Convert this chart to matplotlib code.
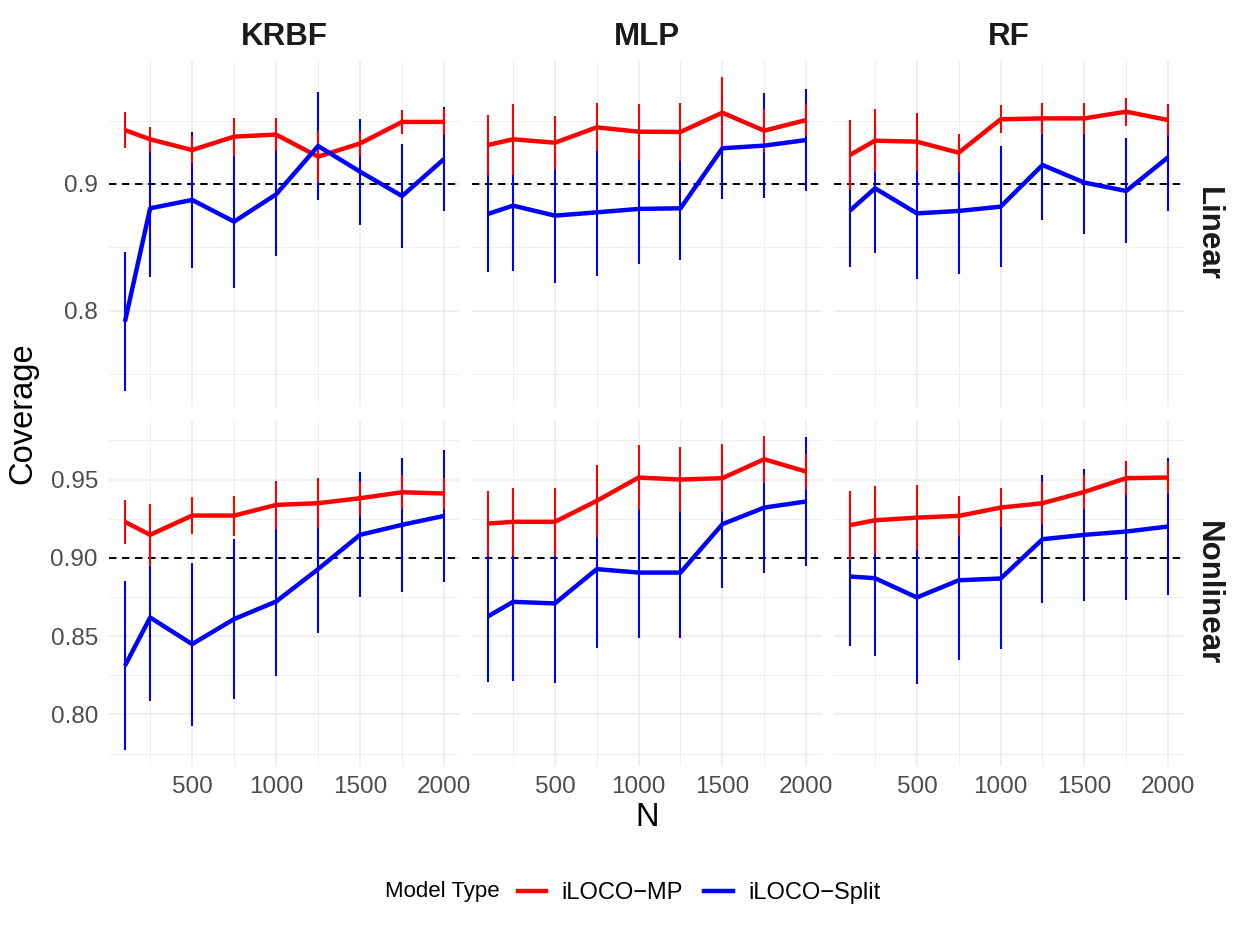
import numpy as np
import matplotlib
matplotlib.use("Agg")
import matplotlib.pyplot as plt
from matplotlib.lines import Line2D

plt.rcParams['font.family'] = ['Liberation Sans', 'DejaVu Sans']

# ---------------- data ----------------
N = [100, 250, 500, 750, 1000, 1250, 1500, 1750, 2000]
models = ["KRBF", "MLP", "RF"]
settings = ["Linear", "Nonlinear"]
series_names = ["iLOCO\u2212MP", "iLOCO\u2212Split"]
series_colors = ["#FF0000", "#0000FF"]

krbf_lin_mp = [0.9426, 0.9353, 0.9268, 0.9374, 0.9390, 0.9216, 0.9320, 0.9490, 0.9490]
krbf_lin_mp_err = [0.014, 0.010, 0.010, 0.015, 0.013, 0.020, 0.010, 0.0098, 0.010]
krbf_lin_split = [0.7913, 0.8808, 0.8874, 0.8703, 0.8918, 0.9300, 0.9097, 0.8905, 0.9197]
krbf_lin_split_err = [0.055, 0.054, 0.054, 0.0527, 0.049, 0.0425, 0.042, 0.041, 0.041]

mlp_lin_mp = [0.9308, 0.9353, 0.9326, 0.9447, 0.9413, 0.9411, 0.9563, 0.9421, 0.9505]
mlp_lin_mp_err = [0.0237, 0.028, 0.021, 0.019, 0.022, 0.023, 0.0284, 0.017, 0.0125]
mlp_lin_split = [0.8763, 0.8829, 0.8750, 0.8776, 0.8803, 0.8808, 0.9282, 0.9303, 0.9347]
mlp_lin_split_err = [0.0455, 0.0513, 0.0529, 0.050, 0.0435, 0.0408, 0.0403, 0.0415, 0.040]

rf_lin_mp = [0.9229, 0.9342, 0.9334, 0.9247, 0.9511, 0.9518, 0.9518, 0.9571, 0.9505]
rf_lin_mp_err = [0.028, 0.025, 0.023, 0.015, 0.011, 0.012, 0.012, 0.011, 0.012]
rf_lin_split = [0.8789, 0.8966, 0.8768, 0.8787, 0.8821, 0.9150, 0.9011, 0.8945, 0.9211]
rf_lin_split_err = [0.0447, 0.0513, 0.0518, 0.0498, 0.048, 0.0434, 0.0406, 0.0415, 0.0422]

krbf_non_mp = [0.9230, 0.9147, 0.9270, 0.9270, 0.9338, 0.9349, 0.9381, 0.9419, 0.9411]
krbf_non_mp_err = [0.014, 0.020, 0.012, 0.0128, 0.0152, 0.016, 0.0105, 0.011, 0.0102]
krbf_non_split = [0.8311, 0.8619, 0.8449, 0.8609, 0.8721, 0.8928, 0.9147, 0.9211, 0.9268]
krbf_non_split_err = [0.054, 0.0532, 0.052, 0.051, 0.0477, 0.041, 0.040, 0.0428, 0.042]

mlp_non_mp = [0.9219, 0.9230, 0.9230, 0.9364, 0.9513, 0.9500, 0.9509, 0.9630, 0.9551]
mlp_non_mp_err = [0.021, 0.0215, 0.0215, 0.023, 0.021, 0.021, 0.0215, 0.015, 0.011]
mlp_non_split = [0.8626, 0.8719, 0.8709, 0.8928, 0.8906, 0.8906, 0.9215, 0.9321, 0.9360]
mlp_non_split_err = [0.0422, 0.0504, 0.0511, 0.0505, 0.042, 0.042, 0.041, 0.0415, 0.041]

rf_non_mp = [0.9209, 0.9240, 0.9257, 0.9268, 0.9321, 0.9349, 0.9421, 0.9509, 0.9513]
rf_non_mp_err = [0.022, 0.0217, 0.021, 0.013, 0.0125, 0.0133, 0.011, 0.011, 0.010]
rf_non_split = [0.8881, 0.8870, 0.8747, 0.8857, 0.8868, 0.9119, 0.9147, 0.9168, 0.9200]
rf_non_split_err = [0.0443, 0.050, 0.055, 0.051, 0.045, 0.041, 0.042, 0.044, 0.044]

target = 0.9
x_major = [500, 1000, 1500, 2000]
x_minor = [250, 750, 1250, 1750]
y_major_lin = [0.8, 0.9]
y_minor_lin = [0.75, 0.85, 0.95]
y_major_non = [0.80, 0.85, 0.90, 0.95]
y_minor_non = [0.775, 0.825, 0.875, 0.925, 0.975]

panel_data = {
    ("KRBF", "Linear"): [(krbf_lin_mp, krbf_lin_mp_err), (krbf_lin_split, krbf_lin_split_err)],
    ("MLP", "Linear"): [(mlp_lin_mp, mlp_lin_mp_err), (mlp_lin_split, mlp_lin_split_err)],
    ("RF", "Linear"): [(rf_lin_mp, rf_lin_mp_err), (rf_lin_split, rf_lin_split_err)],
    ("KRBF", "Nonlinear"): [(krbf_non_mp, krbf_non_mp_err), (krbf_non_split, krbf_non_split_err)],
    ("MLP", "Nonlinear"): [(mlp_non_mp, mlp_non_mp_err), (mlp_non_split, mlp_non_split_err)],
    ("RF", "Nonlinear"): [(rf_non_mp, rf_non_mp_err), (rf_non_split, rf_non_split_err)],
}

# ---------------- layout ----------------
W, H = 1246, 934
fig = plt.figure(figsize=(W / 100, H / 100), dpi=100)
col_px = [(109, 460), (472, 822), (834, 1184)]
row_px = [(61, 407), (420, 766)]

grid_col = "#EBEBEB"
tick_col = "#4D4D4D"

def row_limits(setting):
    lo, hi = [], []
    for m in models:
        for mean, err in panel_data[(m, setting)]:
            mean = np.asarray(mean); err = np.asarray(err)
            lo.append((mean - err).min()); hi.append((mean + err).max())
    lo, hi = min(lo), max(hi)
    pad = 0.05 * (hi - lo)
    return lo - pad, hi + pad

xpad = 0.05 * (max(N) - min(N))
xlim = (min(N) - xpad, max(N) + xpad)

for r, setting in enumerate(settings):
    ylim = row_limits(setting)
    for c, m in enumerate(models):
        x0, x1 = col_px[c]
        y0, y1 = row_px[r]
        ax = fig.add_axes([x0 / W, 1 - y1 / H, (x1 - x0) / W, (y1 - y0) / H])
        ax.set_xlim(*xlim)
        ax.set_ylim(*ylim)
        for s in ax.spines.values():
            s.set_visible(False)
        ax.set_axisbelow(True)
        ax.set_xticks(x_major)
        ax.set_xticks(x_minor, minor=True)
        if setting == "Linear":
            ax.set_yticks(y_major_lin)
            ax.set_yticks(y_minor_lin, minor=True)
            ax.set_yticklabels(["%.1f" % v for v in y_major_lin])
        else:
            ax.set_yticks(y_major_non)
            ax.set_yticks(y_minor_non, minor=True)
            ax.set_yticklabels(["%.2f" % v for v in y_major_non])
        ax.grid(which="major", color=grid_col, lw=1.1)
        ax.grid(which="minor", color=grid_col, lw=0.6)
        ax.tick_params(which="both", length=0, labelsize=17.5, labelcolor=tick_col)
        ax.tick_params(axis="y", pad=8)
        ax.tick_params(axis="x", pad=7)
        if c != 0:
            ax.tick_params(axis="y", labelleft=False)
        if r != 1:
            ax.tick_params(axis="x", labelbottom=False)

        ax.axhline(target, color="black", lw=1.4, ls=(0, (3.8, 2.9)), zorder=2)
        series = panel_data[(m, setting)]
        # error bars: split first, then MP on top
        for k in [1, 0]:
            mean, err = np.asarray(series[k][0]), np.asarray(series[k][1])
            ax.vlines(N, mean - err, mean + err, color=series_colors[k], lw=1.5, zorder=3)
        for k in [0, 1]:
            mean = series[k][0]
            ax.plot(N, mean, color=series_colors[k], lw=3.2, zorder=4,
                    solid_joinstyle="round", solid_capstyle="butt")

        if r == 0:
            fig.text((x0 + x1) / 2 / W, 1 - 37 / H, m, ha="center", va="center",
                     fontsize=22.5, fontweight="bold", color="#1A1A1A")
    y0, y1 = row_px[r]
    fig.text(1208 / W, 1 - (y0 + y1) / 2 / H, setting, ha="center", va="center",
             rotation=-90, fontsize=22.5, fontweight="bold", color="#1A1A1A")

fig.text(23 / W, 1 - 413 / H, "Coverage", rotation=90, ha="center", va="center",
         fontsize=23.5, color="black")
fig.text(647 / W, 1 - 818 / H, "N", ha="center", va="center", fontsize=23.5, color="black")

# legend
fig.text(385 / W, 1 - 892 / H, "Model Type", ha="left", va="center", fontsize=16)
handles = [Line2D([0], [0], color=col, lw=3.2) for col in series_colors]
fig.legend(handles, series_names, ncol=2, loc="center left",
           bbox_to_anchor=(518 / W, 1 - 893 / H), frameon=False, fontsize=17,
           handlelength=1.2, handletextpad=0.65, columnspacing=0.9,
           borderpad=0, borderaxespad=0)

fig.savefig("out.png", dpi=100)
